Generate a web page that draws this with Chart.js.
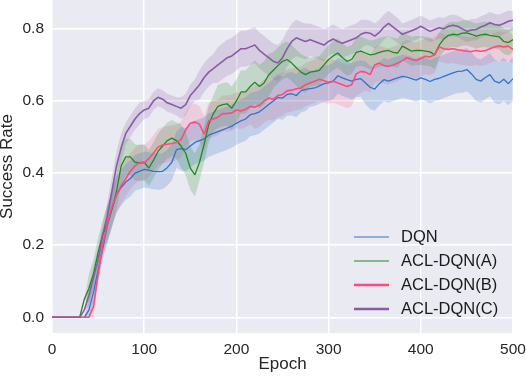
<!DOCTYPE html>
<html>
<head>
<meta charset="utf-8">
<script src="https://cdn.jsdelivr.net/npm/chart.js@4.4.0/dist/chart.umd.min.js"></script>
<style>
  html, body { margin: 0; padding: 0; background: #fff; }
</style>
</head>
<body>
<canvas id="chart" width="526" height="376"></canvas>
<script>
const epochs = [0,5,10,15,20,25,30,35,40,45,50,55,60,65,70,75,80,85,90,95,100,
  105,110,115,120,125,130,135,140,145,150,155,160,165,170,175,180,185,190,195,200,
  205,210,215,220,225,230,235,240,245,250,255,260,265,270,275,280,285,290,295,300,
  305,310,315,320,325,330,335,340,345,350,355,360,365,370,375,380,385,390,395,400,
  405,410,415,420,425,430,435,440,445,450,455,460,465,470,475,480,485,490,495,500];

// mean success rate, every 5 epochs
const dqn = [0,0,0,0,0,0,0,0,0.02,0.07,0.13,0.19,0.255,0.30,0.34,0.36,0.375,0.385,0.40,0.405,0.41,
  0.408,0.405,0.404,0.405,0.415,0.43,0.465,0.468,0.465,0.475,0.485,0.49,0.495,0.505,0.51,0.515,0.52,0.525,0.53,0.538,
  0.545,0.55,0.562,0.565,0.57,0.58,0.59,0.60,0.61,0.608,0.618,0.62,0.615,0.628,0.632,0.634,0.636,0.642,0.648,0.65,
  0.655,0.67,0.664,0.659,0.655,0.66,0.662,0.65,0.638,0.633,0.648,0.659,0.655,0.66,0.664,0.668,0.666,0.662,0.658,0.664,
  0.66,0.654,0.66,0.663,0.668,0.673,0.678,0.682,0.683,0.687,0.675,0.66,0.655,0.665,0.673,0.655,0.65,0.66,0.648,0.662];
const aclA = [0,0,0,0,0,0,0,0.05,0.08,0.12,0.18,0.23,0.26,0.30,0.35,0.42,0.445,0.445,0.43,0.428,0.43,
  0.414,0.435,0.46,0.475,0.49,0.497,0.49,0.475,0.455,0.414,0.395,0.43,0.48,0.535,0.565,0.585,0.59,0.592,0.58,0.60,
  0.625,0.625,0.64,0.652,0.64,0.65,0.672,0.685,0.698,0.71,0.715,0.705,0.692,0.68,0.673,0.68,0.682,0.685,0.70,0.715,
  0.725,0.733,0.72,0.71,0.715,0.735,0.738,0.733,0.728,0.73,0.735,0.738,0.74,0.735,0.733,0.752,0.745,0.738,0.74,0.74,
  0.738,0.736,0.728,0.755,0.772,0.782,0.785,0.783,0.788,0.789,0.785,0.78,0.783,0.785,0.782,0.78,0.778,0.765,0.762,0.77];
const aclB = [0,0,0,0,0,0,0,0,0,0.03,0.12,0.20,0.26,0.305,0.34,0.365,0.385,0.405,0.42,0.43,0.428,
  0.44,0.455,0.472,0.478,0.48,0.482,0.485,0.493,0.52,0.538,0.542,0.535,0.508,0.545,0.55,0.555,0.565,0.565,0.567,0.575,
  0.572,0.577,0.585,0.583,0.588,0.60,0.608,0.605,0.615,0.618,0.628,0.63,0.634,0.636,0.645,0.65,0.655,0.66,0.656,0.652,
  0.655,0.65,0.645,0.64,0.645,0.675,0.682,0.68,0.673,0.70,0.705,0.698,0.696,0.70,0.705,0.712,0.72,0.715,0.712,0.718,
  0.724,0.722,0.728,0.75,0.745,0.743,0.745,0.742,0.74,0.738,0.737,0.74,0.738,0.74,0.745,0.75,0.752,0.75,0.752,0.743];
const aclC = [0,0,0,0,0,0,0,0.02,0.06,0.11,0.16,0.23,0.28,0.35,0.42,0.47,0.51,0.53,0.55,0.565,0.575,
  0.58,0.60,0.61,0.605,0.595,0.59,0.585,0.58,0.59,0.615,0.63,0.645,0.665,0.68,0.69,0.70,0.71,0.72,0.725,0.735,
  0.745,0.745,0.75,0.755,0.74,0.73,0.72,0.71,0.705,0.72,0.745,0.765,0.775,0.77,0.765,0.77,0.765,0.76,0.755,0.765,
  0.772,0.765,0.76,0.765,0.77,0.775,0.785,0.79,0.788,0.78,0.79,0.805,0.815,0.805,0.795,0.785,0.79,0.795,0.80,0.807,
  0.80,0.793,0.798,0.803,0.80,0.807,0.81,0.807,0.80,0.793,0.797,0.798,0.805,0.81,0.817,0.812,0.81,0.815,0.821,0.824];

// half width of the shaded band, one value per 20 epochs
const dqnSpread  = [0,0,0.03,0.05,0.05,0.05,0.05,0.06,0.06,0.06,0.06,0.06,0.06,0.06,0.05,0.05,0.05,0.06,0.06,0.06,0.06,0.06,0.06,0.06,0.06,0.06];
const aclASpread = [0,0,0.04,0.05,0.05,0.05,0.05,0.06,0.05,0.06,0.06,0.06,0.05,0.05,0.04,0.04,0.04,0.04,0.04,0.04,0.04,0.035,0.035,0.035,0.035,0.035];
const aclBSpread = [0,0,0.03,0.05,0.05,0.05,0.05,0.05,0.05,0.05,0.05,0.06,0.06,0.06,0.06,0.06,0.06,0.05,0.05,0.05,0.05,0.04,0.04,0.04,0.04,0.04];
const aclCSpread = [0,0,0.03,0.04,0.03,0.025,0.025,0.03,0.04,0.05,0.05,0.05,0.05,0.05,0.045,0.04,0.04,0.035,0.035,0.03,0.03,0.03,0.03,0.03,0.03,0.025];

const seriesNames = ['DQN', 'ACL-DQN(A)', 'ACL-DQN(B)', 'ACL-DQN(C)'];
const xTicks = [0, 100, 200, 300, 400, 500];
const yTicks = [0.0, 0.2, 0.4, 0.6, 0.8];

const FONT = '"Liberation Sans", Arial, sans-serif';
const series = [
  { vals: dqn,  spread: dqnSpread,  color: '#3274c2', band: 'rgba(50,116,194,0.22)', width: 1.3, legendWidth: 1.2 },
  { vals: aclA, spread: aclASpread, color: '#1f8a1f', band: 'rgba(31,138,31,0.2)',  width: 1.3, legendWidth: 1.2 },
  { vals: aclB, spread: aclBSpread, color: '#ff4a7d', band: 'rgba(255,74,125,0.18)', width: 1.6, legendWidth: 2.5 },
  { vals: aclC, spread: aclCSpread, color: '#8a5aa6', band: 'rgba(138,90,166,0.2)', width: 1.6, legendWidth: 2.5 },
];

const datasets = [];
series.forEach((s, k) => {
  const up = [], lo = [];
  s.vals.forEach((v, i) => {
    const h = s.spread[Math.floor(i / 4)];
    up.push({ x: epochs[i], y: v > 0 ? v + h : 0 });
    lo.push({ x: epochs[i], y: Math.max(0, v - h) });
  });
  datasets.push({ data: up, borderWidth: 0, pointRadius: 0, fill: false, order: 20 + k });
  datasets.push({ data: lo, borderWidth: 0, pointRadius: 0, fill: '-1', backgroundColor: s.band, order: 20 + k });
});
series.forEach((s, k) => {
  datasets.push({
    label: seriesNames[k],
    isMain: true,
    legendWidth: s.legendWidth,
    data: s.vals.map((v, i) => ({ x: epochs[i], y: v })),
    borderColor: s.color,
    borderWidth: s.width,
    borderJoinStyle: 'bevel',
    pointRadius: 0,
    fill: false,
    order: 3 - k,
  });
});

const plotBg = {
  id: 'plotBg',
  beforeDraw(chart) {
    const { ctx, chartArea: a } = chart;
    ctx.save();
    ctx.fillStyle = '#eaeaf2';
    ctx.fillRect(a.left, a.top, a.right - a.left, a.bottom - a.top);
    ctx.restore();
  }
};

const insideLegend = {
  id: 'insideLegend',
  afterDraw(chart) {
    const ctx = chart.ctx;
    const mains = chart.data.datasets.filter(d => d.isMain);
    ctx.save();
    ctx.font = '16.5px ' + FONT;
    ctx.textBaseline = 'middle';
    mains.forEach((d, i) => {
      const y = 237 + i * 24;
      ctx.strokeStyle = d.borderColor;
      ctx.lineWidth = d.legendWidth;
      ctx.beginPath();
      ctx.moveTo(354, y);
      ctx.lineTo(389, y);
      ctx.stroke();
      ctx.fillStyle = '#1a1a1a';
      ctx.fillText(d.label, 401, y + 0.5);
    });
    ctx.restore();
  }
};

new Chart(document.getElementById('chart'), {
  type: 'line',
  data: { datasets },
  plugins: [plotBg, insideLegend],
  options: {
    responsive: false,
    animation: false,
    layout: { padding: { left: 0, top: 0, right: 13, bottom: 0 } },
    plugins: { legend: { display: false }, tooltip: { enabled: false } },
    scales: {
      x: {
        type: 'linear', min: 0, max: 500,
        afterBuildTicks: s => { s.ticks = xTicks.map(v => ({ value: v })); },
        afterFit: s => { s.height = 43; s.paddingLeft = 0; s.paddingRight = 0; },
        grid: { color: '#ffffff', lineWidth: 1.5, drawTicks: false },
        border: { display: false },
        ticks: { padding: 7, color: '#262626', maxRotation: 0, font: { size: 15.5, family: FONT } },
        title: { display: true, text: 'Epoch', color: '#262626', font: { size: 17, family: FONT }, padding: { top: 0, bottom: 1 } },
      },
      y: {
        type: 'linear', min: -0.0435, max: 0.88,
        afterBuildTicks: s => { s.ticks = yTicks.map(v => ({ value: v })); },
        afterFit: s => { s.width = 52; s.paddingTop = 0; s.paddingBottom = 0; },
        grid: { color: '#ffffff', lineWidth: 1.5, drawTicks: false },
        border: { display: false },
        ticks: { padding: 8, color: '#262626', font: { size: 15.5, family: FONT }, callback: v => v.toFixed(1) },
        title: { display: true, text: 'Success Rate', color: '#262626', font: { size: 17, family: FONT }, padding: { top: -2.5, bottom: 0 } },
      }
    }
  }
});
</script>
</body>
</html>
